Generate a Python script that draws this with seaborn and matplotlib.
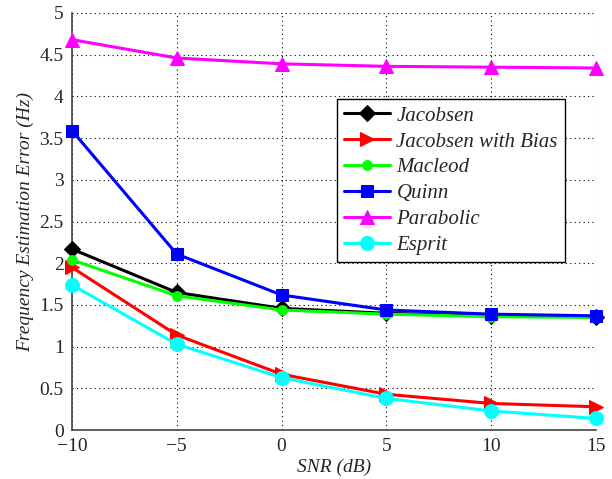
import matplotlib
matplotlib.use('Agg')
import matplotlib.pyplot as plt
import seaborn as sns
import pandas as pd

snr = [-10, -5, 0, 5, 10, 15]
jacobsen = [2.17, 1.65, 1.46, 1.40, 1.37, 1.36]
jacobsen_bias = [1.95, 1.14, 0.67, 0.43, 0.32, 0.28]
macleod = [2.04, 1.61, 1.44, 1.39, 1.36, 1.35]
quinn = [3.59, 2.11, 1.62, 1.44, 1.39, 1.37]
parabolic = [4.68, 4.46, 4.39, 4.36, 4.35, 4.34]
esprit = [1.74, 1.03, 0.63, 0.38, 0.23, 0.14]

names = ['Jacobsen', 'Jacobsen with Bias', 'Macleod', 'Quinn', 'Parabolic', 'Esprit']
series = [jacobsen, jacobsen_bias, macleod, quinn, parabolic, esprit]
colors = ['black', 'red', '#00ff00', 'blue', 'magenta', 'cyan']
markers = ['D', '>', 'o', 's', '^', 'o']
msizes = [8, 10, 7, 9, 10, 10]

sns.set_style('ticks')
plt.rcParams['font.family'] = ['Liberation Serif', 'DejaVu Serif']

fig = plt.figure(figsize=(6.12, 4.79), dpi=100)
ax = fig.add_axes([0.1176, 0.102, 0.856, 0.871])

for name, vals, c, m, ms in zip(names, series, colors, markers, msizes):
    df = pd.DataFrame({'snr': snr, 'err': vals})
    sns.lineplot(data=df, x='snr', y='err', ax=ax, color=c, marker=m,
                 markersize=ms, markeredgecolor=c, linewidth=2.2, label=name,
                 clip_on=False, zorder=3)

ax.set_xlim(-10, 15)
ax.set_ylim(0, 5)
ax.set_xticks([-10, -5, 0, 5, 10, 15])
ax.set_xticklabels(['\u221210', '\u22125', '0', '5', '10', '15'])
ax.set_yticks([0, 0.5, 1, 1.5, 2, 2.5, 3, 3.5, 4, 4.5, 5])
ax.set_yticklabels(['0', '0.5', '1', '1.5', '2', '2.5', '3', '3.5', '4', '4.5', '5'])
ax.grid(True, linestyle=(0, (1, 3)), color='black', linewidth=0.8)
ax.tick_params(direction='in', labelsize=14, length=0, pad=6)
for s in ['top', 'right']:
    ax.spines[s].set_visible(False)
for s in ['left', 'bottom']:
    ax.spines[s].set_color('#444444')
    ax.spines[s].set_linewidth(1.2)

ax.set_xlabel('SNR (dB)', fontstyle='italic', fontsize=14, labelpad=2)
ax.set_ylabel('Frequency Estimation Error (Hz)', fontstyle='italic', fontsize=14, labelpad=4)

leg = ax.legend(loc='upper left', bbox_to_anchor=(0.486, 0.819),
                prop={'style': 'italic', 'size': 15}, frameon=True, fancybox=False,
                edgecolor='black', framealpha=1, borderpad=0.35, labelspacing=0.3,
                handlelength=2.2, handletextpad=0.3)
leg.get_frame().set_linewidth(1.0)

fig.savefig('out.png', dpi=100)
